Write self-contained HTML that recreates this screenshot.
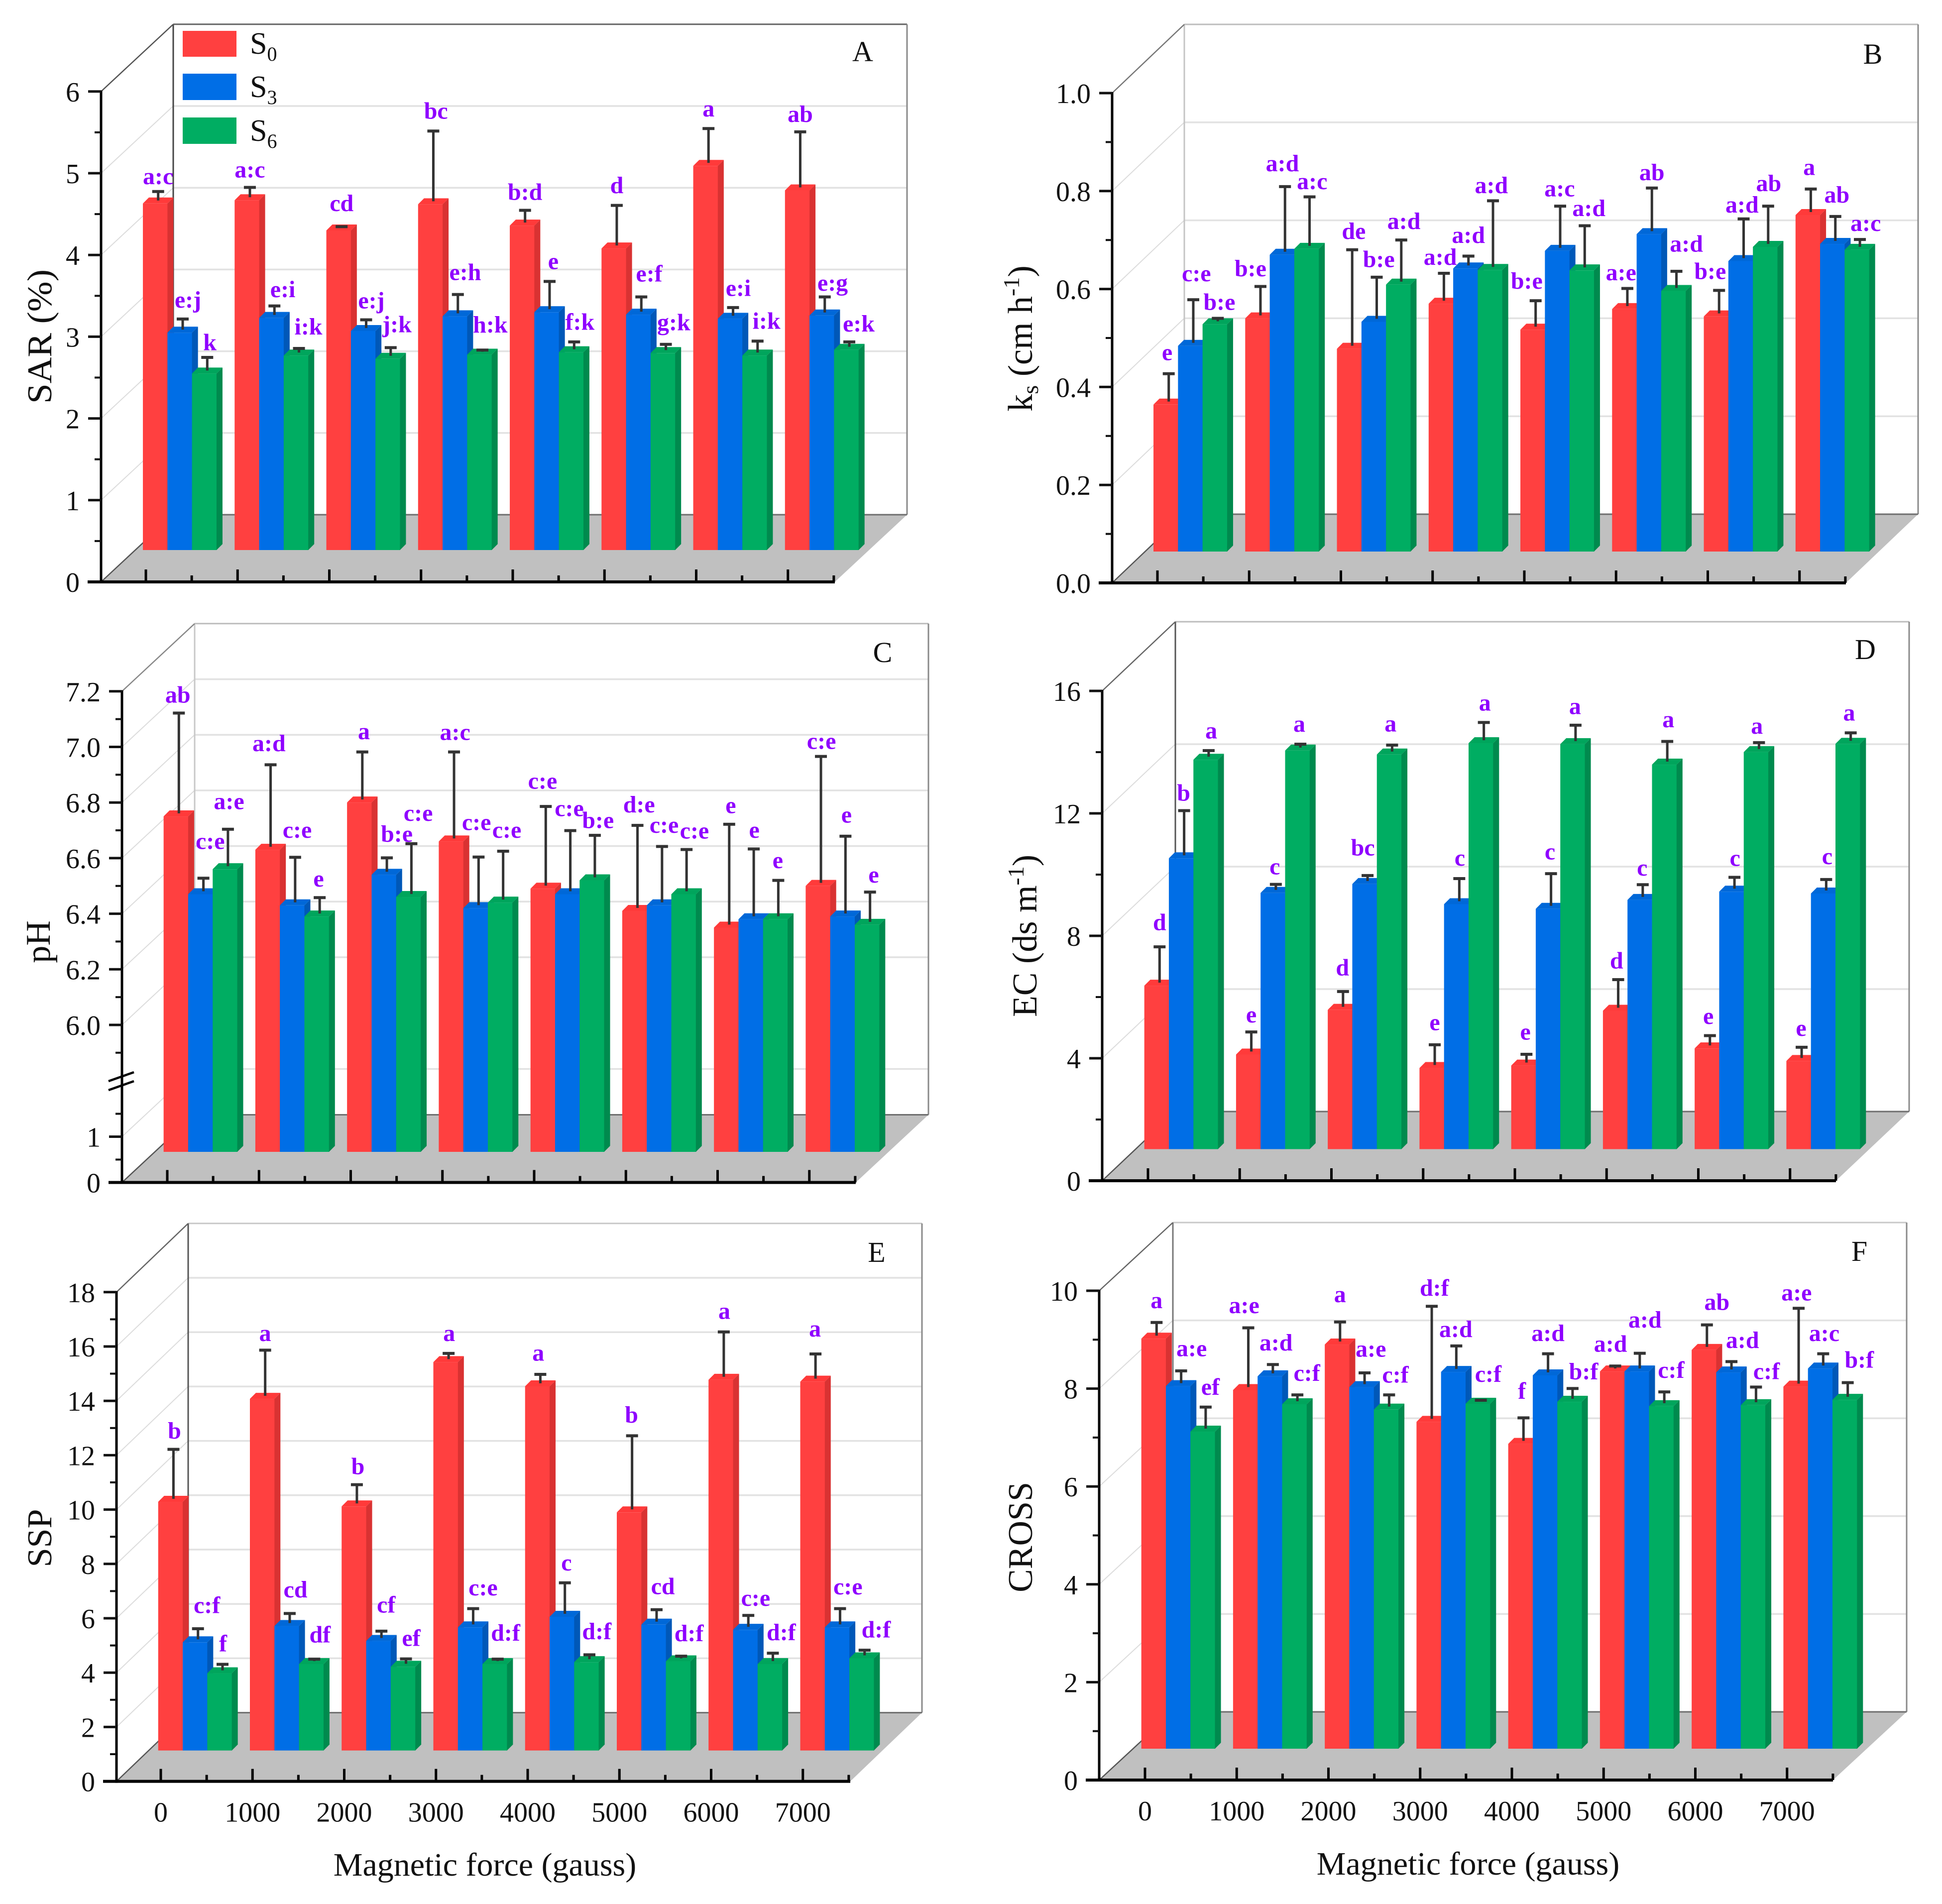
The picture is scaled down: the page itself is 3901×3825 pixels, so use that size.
<!DOCTYPE html>
<html lang="en">
<head>
<meta charset="utf-8">
<title>Magnetic force effects on SAR, ks, pH, EC, SSP and CROSS</title>
<style>
html,body{margin:0;padding:0;background:#fff;}
svg{display:block;font-family:"Liberation Serif",serif;}
</style>
</head>
<body>
<svg id="figure" xmlns="http://www.w3.org/2000/svg" width="3901" height="3825" viewBox="0 0 3901 3825">
<rect width="3901" height="3825" fill="#ffffff"/>
<g id="charts"></g>

<g>
  <rect x="367" y="62" width="108" height="52" fill="#ff4040"/>
  <rect x="367" y="148" width="108" height="53" fill="#006ee6"/>
  <rect x="367" y="236" width="108" height="53" fill="#00ad62"/>
  <text x="502" y="108" font-size="62" fill="#111">S<tspan font-size="40" dy="14">0</tspan></text>
  <text x="502" y="195" font-size="62" fill="#111">S<tspan font-size="40" dy="14">3</tspan></text>
  <text x="502" y="283" font-size="62" fill="#111">S<tspan font-size="40" dy="14">6</tspan></text>
</g>

<g font-size="58" fill="#111" text-anchor="middle">
  <text x="1733" y="123">A</text>
  <text x="3762" y="128">B</text>
  <text x="1773" y="1330">C</text>
  <text x="3747" y="1324">D</text>
  <text x="1761" y="2535">E</text>
  <text x="3735" y="2533">F</text>
</g>

<g font-size="70" fill="#111" text-anchor="middle">
  <text transform="translate(103,676) rotate(-90)" textLength="270" lengthAdjust="spacingAndGlyphs">SAR (%)</text>
  <text transform="translate(2073,680) rotate(-90)">k<tspan font-size="46" dy="12">s</tspan><tspan dy="-12"> (cm h</tspan><tspan font-size="46" dy="-26">-1</tspan><tspan dy="26">)</tspan></text>
  <text transform="translate(100,1892) rotate(-90)">pH</text>
  <text transform="translate(2082,1880) rotate(-90)">EC (ds m<tspan font-size="46" dy="-26">-1</tspan><tspan dy="26">)</tspan></text>
  <text transform="translate(103,3090) rotate(-90)">SSP</text>
  <text transform="translate(2073,3088) rotate(-90)">CROSS</text>
</g>

<g font-size="66" fill="#111" text-anchor="middle">
  <text x="974" y="3768">Magnetic force (gauss)</text>
  <text x="2949" y="3766">Magnetic force (gauss)</text>
</g>
</svg>

<script>
// ---------- shared categories ----------
const categories = ['0','1000','2000','3000','4000','5000','6000','7000'];
const seriesNames = ['s0','s3','s6'];

// ---------- Panel A: SAR ----------
const sarS0 = [4.24,4.28,3.91,4.23,3.97,3.69,4.70,4.40];
const sarS3 = [2.66,2.84,2.68,2.86,2.91,2.88,2.83,2.87];
const sarS6 = [2.16,2.38,2.34,2.39,2.42,2.41,2.38,2.45];
const sarErrS0 = [.11,.12,.01,.86,.15,.49,.42,.68];
const sarErrS3 = [.13,.11,.10,.23,.34,.18,.10,.19];
const sarErrS6 = [.16,.05,.10,.02,.09,.07,.14,.06];
const sarSigS0 = ['a:c','a:c','cd','bc','b:d','d','a','ab'];
const sarSigS3 = ['e:j','e:i','e:j','e:h','e','e:f','e:i','e:g'];
const sarSigS6 = ['k','i:k','j:k','h:k','f:k','g:k','i:k','e:k'];
const sarTicks = [0,1,2,3,4,5,6];
const sarMinor = [.5,1.5,2.5,3.5,4.5,5.5];
const sarGrid = [1,2,3,4,5];

// ---------- Panel B: ks ----------
const ksS0 = [.30,.476,.414,.506,.453,.495,.48,.687];
const ksS3 = [.42,.606,.469,.578,.614,.648,.593,.628];
const ksS6 = [.464,.618,.545,.575,.574,.532,.622,.616];
const ksErrS0 = [.057,.059,.196,.056,.053,.036,.047,.047];
const ksErrS3 = [.088,.133,.085,.019,.085,.088,.08,.05];
const ksErrS6 = [.006,.10,.085,.135,.085,.034,.077,.015];
const ksSigS0 = ['e','b:e','de','a:d','b:e','a:e','b:e','a'];
const ksSigS3 = ['c:e','a:d','b:e','a:d','a:c','ab','a:d','ab'];
const ksSigS6 = ['b:e','a:c','a:d','a:d','a:d','a:d','ab','a:c'];
const ksTicks = ['0.0','0.2','0.4','0.6','0.8','1.0'];
const ksMinor = [.1,.3,.5,.7,.9];
const ksGrid = [.2,.4,.6,.8];

// ---------- Panel C: pH ----------
const phS0 = [6.64,6.52,6.69,6.55,6.38,6.30,6.24,6.39];
const phS3 = [6.36,6.32,6.43,6.31,6.36,6.32,6.27,6.28];
const phS6 = [6.45,6.28,6.35,6.33,6.41,6.36,6.27,6.25];
const phErrS0 = [.361,.295,.171,.311,.285,.297,.361,.455];
const phErrS3 = [.047,.162,.05,.173,.218,.201,.242,.278];
const phErrS6 = [.133,.057,.181,.174,.151,.15,.129,.107];
const phSigS0 = ['ab','a:d','a','a:c','c:e','d:e','e','c:e'];
const phSigS3 = ['c:e','c:e','b:e','c:e','c:e','c:e','e','e'];
const phSigS6 = ['a:e','e','c:e','c:e','b:e','c:e','e','e'];
const phTicks = ['0','1','6.0','6.2','6.4','6.6','6.8','7.0','7.2'];
const phMinor = [.5,1.5,5.9,6.1,6.3,6.5,6.7,6.9,7.1];
const phGrid = [1,6,6.2,6.4,6.6,6.8,7];

// ---------- Panel D: EC ----------
const ecS0 = [5.34,3.09,4.55,2.65,2.73,4.52,3.29,2.88];
const ecS3 = [9.5,8.37,8.66,8.0,7.85,8.14,8.41,8.35];
const ecS6 = [12.72,13.02,12.89,13.26,13.23,12.56,12.97,13.24];
const ecErrS0 = [1.17,.64,.5,.66,.27,.92,.32,.35];
const ecErrS3 = [1.46,.18,.18,.74,1.05,.40,.37,.36];
const ecErrS6 = [.2,.11,.21,.58,.52,.66,.21,.26];
const ecSigS0 = ['d','e','d','e','e','d','e','e'];
const ecSigS3 = ['b','c','bc','c','c','c','c','c'];
const ecSigS6 = ['a','a','a','a','a','a','a','a'];
const ecTicks = [0,4,8,12,16];
const ecMinor = [2,6,10,14];
const ecGrid = [4,8,12];

// ---------- Panel E: SSP ----------
const sspS0 = [9.15,12.94,8.98,14.29,13.40,8.76,13.64,13.57];
const sspS3 = [3.98,4.58,4.03,4.53,4.92,4.63,4.44,4.53];
const sspS6 = [2.84,3.18,3.08,3.18,3.25,3.28,3.18,3.39];
const sspErrS0 = [1.82,1.68,.69,.21,.33,2.71,1.65,.91];
const sspErrS3 = [.39,.35,.25,.58,1.14,.44,.42,.58];
const sspErrS6 = [.22,.07,.18,.07,.16,.08,.29,.19];
const sspSigS0 = ['b','a','b','a','a','b','a','a'];
const sspSigS3 = ['c:f','cd','cf','c:e','c','cd','c:e','c:e'];
const sspSigS6 = ['f','df','ef','d:f','d:f','d:f','d:f','d:f'];
const sspTicks = [0,2,4,6,8,10,12,14,16,18];
const sspMinor = [1,3,5,7,9,11,13,15,17];
const sspGrid = [2,4,6,8,10,12,14,16];

// ---------- Panel F: CROSS ----------
const crossS0 = [8.38,7.33,8.26,6.68,6.23,7.71,8.15,7.40];
const crossS3 = [7.41,7.61,7.39,7.70,7.63,7.71,7.69,7.77];
const crossS6 = [6.48,7.04,6.93,7.05,7.09,7.0,7.02,7.13];
const crossErrS0 = [.27,1.21,.40,2.30,.47,.05,.45,1.54];
const crossErrS3 = [.25,.18,.23,.47,.38,.31,.16,.24];
const crossErrS6 = [.44,.13,.24,.01,.21,.23,.31,.29];
const crossSigS0 = ['a','a:e','a','d:f','f','a:d','ab','a:e'];
const crossSigS3 = ['a:e','a:d','a:e','a:d','a:d','a:d','a:d','a:c'];
const crossSigS6 = ['ef','c:f','c:f','c:f','b:f','c:f','c:f','b:f'];
const crossTicks = [0,2,4,6,8,10];
const crossMinor = [1,3,5,7,9];
const crossGrid = [2,4,6,8];

// ---------- annotation placement (layout only, relative to each error-bar top) ----------
const layoutA = {sx:[[0,0,0,5,0,0,0,0],[10,16,10,14,7,15,10,15],[5,18,12,15,11,15,17,18]],
  sy:[[23,31,49,39,33,39,38,31],[36,28,36,46,39,49,37,20],[23,44,48,55,38,44,39,33]]};
const layoutB = {sx:[[-3,-19,3,-7,-17,-12,-17,-3],[6,-5,4,0,-1,0,-3,3],[3,5,5,-3,8,19,1,11]],
  sy:[[43,32,34,27,38,26,36,44],[58,48,32,42,31,25,20,44],[27,24,35,24,31,62,47,27]]};
const layoutC = {sx:[[-2,-3,3,2,-6,3,3,1],[13,4,19,-4,-2,4,1,2],[2,-2,13,7,6,15,-1,7]],
  sy:[[33,43,40,38,56,41,35,24],[92,62,51,85,46,43,35,43],[63,35,72,42,23,35,39,30]]};
const layoutD = {sx:[[0,0,-1,0,-2,-3,-3,-1],[-1,-2,-9,1,-2,-1,1,2],[5,-2,-3,2,-1,2,-4,-3]],
  sy:[[53,30,51,46,46,35,37,36],[31,32,63,41,45,29,36,48],[38,39,43,37,35,45,28,39]]};
const layoutE = {sx:[[2,0,2,1,-4,-1,1,-1],[17,11,9,19,3,12,14,15],[1,11,10,15,14,15,16,22]],
  sy:[[34,29,33,39,43,41,41,55],[49,51,59,42,39,49,30,45],[41,53,41,58,49,47,41,40]]};
const layoutF = {sx:[[0,-8,0,5,-3,-9,19,-4],[20,6,12,-1,0,10,21,2],[9,18,12,14,21,13,20,22]],
  sy:[[45,46,62,33,60,45,47,25],[46,44,51,28,40,81,43,40],[39,44,39,58,29,44,25,47]]};

const NS = 'http://www.w3.org/2000/svg';
const palette = [
  {front:'#ff4040', side:'#d93232', top:'#ff3a3a'},
  {front:'#006ee6', side:'#0058b8', top:'#0068d8'},
  {front:'#00ad62', side:'#008a4e', top:'#00a55c'}
];
const root = document.getElementById('charts');

function mk(parent, tag, name, attrs, text){
  const el = document.createElementNS(NS, tag);
  
  
  for (const k in attrs) el.setAttribute(k, attrs[k]);
  if (text !== undefined) el.textContent = text;
  parent.appendChild(el);
  return el;
}
function line(p, name, x1, y1, x2, y2, stroke, w){
  return mk(p, 'line', name, {x1:x1, y1:y1, x2:x2, y2:y2, stroke:stroke, 'stroke-width':w});
}
function poly(p, name, pts, fill){
  return mk(p, 'polygon', name, {points:pts.map(function(q){return q[0]+','+q[1];}).join(' '), fill:fill});
}

function drawPanel(c){
  const g = mk(root, 'g', 'panel-'+c.id, {});
  const Y = c.y;
  const W = 1474, step = 184.25, barW = 49.3, depth = 12;
  const ax = c.ax, y0 = Y(0);
  const bx = ax + c.dx, bTop = Y(c.top) + c.dy, bFloor = y0 + c.dy;

  // back wall grid
  c.grid.forEach(function(v){
    const yy = Y(v);
    line(g, 'grid-slant-'+v, ax, yy, bx, yy + c.dy, '#dcdcdc', 2);
    line(g, 'grid-line-'+v, bx, yy + c.dy, bx + W, yy + c.dy, '#e2e2e2', 3.5);
  });
  line(g, 'wall-top-edge', bx, bTop, bx + W, bTop, c.topColor, 3);
  line(g, 'wall-left-edge', bx, bTop, bx, bFloor, c.leftColor, 3);
  line(g, 'wall-right-edge', bx + W, bTop, bx + W, bFloor, '#8a8a8a', 3);
  line(g, 'wall-slant-top', ax, Y(c.top), bx, bTop, c.slantColor, 2.5);

  // floor
  poly(g, 'floor', [[ax,y0],[bx,bFloor],[bx+W,bFloor],[ax+W,y0]], '#c0c0c0');
  line(g, 'floor-back-edge', bx, bFloor, bx+W, bFloor, '#6e6e6e', 3);
  line(g, 'floor-left-edge', ax, y0, bx, bFloor, '#555555', 2.5);

  // y axis
  line(g, 'y-axis', ax, Y(c.top)-2, ax, y0+3, '#000', 5);
  c.ticks.forEach(function(t){
    const v = parseFloat(t), yy = Y(v);
    line(g, 'y-tick-'+t, ax-26, yy, ax, yy, '#111', 5);
    mk(g, 'text', 'y-tick-label-'+t, {x:ax-43, y:yy+20, 'font-size':56, 'text-anchor':'end', fill:'#111'}, String(t));
  });
  c.minor.forEach(function(v){
    const yy = Y(v);
    line(g, 'y-minor-tick-'+v, ax-13, yy, ax, yy, '#111', 4);
  });
  if (c.brk){
    line(g, 'axis-break-upper', ax-27, c.brk+9, ax+24, c.brk-9, '#000', 4.5);
    line(g, 'axis-break-lower', ax-27, c.brk+27, ax+24, c.brk+9, '#000', 4.5);
  }

  // x axis
  line(g, 'x-axis', ax-27, y0, ax+W, y0, '#000', 6);
  categories.forEach(function(cat, i){
    const tx = ax + c.tick0 + i*step;
    line(g, 'x-tick-'+cat, tx, y0, tx, y0-25, '#000', 5);
    line(g, 'x-minor-tick-'+cat, tx+step/2, y0, tx+step/2, y0-13, '#000', 5);
    if (c.showX) {
      mk(g, 'text', 'x-tick-label-'+cat, {x:tx, y:y0+81, 'font-size':56, 'text-anchor':'middle', fill:'#111'}, cat);
    }
  });

  // bars
  const base = y0 + c.by;
  const marks = [];
  categories.forEach(function(cat, i){
    const left = ax + c.tick0 + i*step + c.bx - barW*1.5;
    c.series.forEach(function(vals, s){
      const v = vals[i];
      const x = left + s*barW;
      const top = Y(v) + c.by;
      const col = palette[s];
      const nm = 'bar-'+c.id+'-'+seriesNames[s]+'-'+cat;
      mk(g, 'rect', nm, {x:x, y:top, width:barW+0.5, height:base-top, fill:col.front});
      poly(g, nm+'-side', [[x+barW,top],[x+barW+depth,top-depth],[x+barW+depth,base-depth],[x+barW,base]], col.side);
      poly(g, nm+'-top', [[x,top],[x+depth,top-depth],[x+barW+depth,top-depth],[x+barW,top]], col.top);
      marks.push({s:s, i:i, cat:cat, cx:x+barW/2+6, low:top-6, high:Y(v+c.errs[s][i])+c.by-6});
    });
  });

  // error bars and significance letters
  marks.forEach(function(m){
    const nm = c.id+'-'+seriesNames[m.s]+'-'+m.cat;
    line(g, 'error-bar-'+nm, m.cx, m.low, m.cx, m.high, '#333333', 5);
    line(g, 'error-cap-'+nm, m.cx-12, m.high, m.cx+12, m.high, '#333333', 6);
    const lx = m.cx + c.layout.sx[m.s][m.i]/0.95;
    const ly = m.high - c.layout.sy[m.s][m.i]/1.568;
    mk(g, 'text', 'significance-label-'+nm, {x:lx, y:ly, 'font-size':48, 'font-weight':'bold', 'text-anchor':'middle', fill:'#8f00ff'}, c.sig[m.s][m.i]);
  });
}

function linearY(zero, unit){
  return function(v){ return zero - v*unit; };
}
function brokenY(v){
  return v >= 3 ? 2059 - (v-6)*558.5 : 2375.5 - v*92;
}

drawPanel({id:'a', ax:203, y:linearY(1169,164.2), top:6, dx:145, dy:-135, bx:68, by:-64, tick0:90, showX:false,
  series:[sarS0,sarS3,sarS6], errs:[sarErrS0,sarErrS3,sarErrS6], sig:[sarSigS0,sarSigS3,sarSigS6],
  ticks:sarTicks, minor:sarMinor, grid:sarGrid, layout:layoutA,
  topColor:'#666666', leftColor:'#444444', slantColor:'#555555'});
drawPanel({id:'b', ax:2234, y:linearY(1171,984), top:1, dx:145, dy:-138, bx:66, by:-63, tick0:91, showX:false,
  series:[ksS0,ksS3,ksS6], errs:[ksErrS0,ksErrS3,ksErrS6], sig:[ksSigS0,ksSigS3,ksSigS6],
  ticks:ksTicks, minor:ksMinor, grid:ksGrid, layout:layoutB,
  topColor:'#bdbdbd', leftColor:'#c4c4c4', slantColor:'#777777'});
drawPanel({id:'c', ax:245, y:brokenY, top:7.2, dx:146, dy:-136, bx:66.6, by:-61.5, tick0:91, brk:2163, showX:false,
  series:[phS0,phS3,phS6], errs:[phErrS0,phErrS3,phErrS6], sig:[phSigS0,phSigS3,phSigS6],
  ticks:phTicks, minor:phMinor, grid:phGrid, layout:layoutC,
  topColor:'#bdbdbd', leftColor:'#c8c8c8', slantColor:'#888888'});
drawPanel({id:'d', ax:2214, y:linearY(2372,61.5), top:16, dx:147, dy:-139, bx:66.6, by:-63.5, tick0:92, showX:false,
  series:[ecS0,ecS3,ecS6], errs:[ecErrS0,ecErrS3,ecErrS6], sig:[ecSigS0,ecSigS3,ecSigS6],
  ticks:ecTicks, minor:ecMinor, grid:ecGrid, layout:layoutD,
  topColor:'#bdbdbd', leftColor:'#555555', slantColor:'#666666'});
drawPanel({id:'e', ax:234, y:linearY(3578.6,54.6), top:18, dx:144, dy:-138, bx:68.7, by:-62, tick0:89, showX:true,
  series:[sspS0,sspS3,sspS6], errs:[sspErrS0,sspErrS3,sspErrS6], sig:[sspSigS0,sspSigS3,sspSigS6],
  ticks:sspTicks, minor:sspMinor, grid:sspGrid, layout:layoutE,
  topColor:'#c8c8c8', leftColor:'#555555', slantColor:'#666666'});
drawPanel({id:'f', ax:2208, y:linearY(3576,98.3), top:10, dx:148, dy:-137, bx:66.6, by:-63, tick0:92, showX:true,
  series:[crossS0,crossS3,crossS6], errs:[crossErrS0,crossErrS3,crossErrS6], sig:[crossSigS0,crossSigS3,crossSigS6],
  ticks:crossTicks, minor:crossMinor, grid:crossGrid, layout:layoutF,
  topColor:'#c8c8c8', leftColor:'#777777', slantColor:'#666666'});
</script>
</body>
</html>
